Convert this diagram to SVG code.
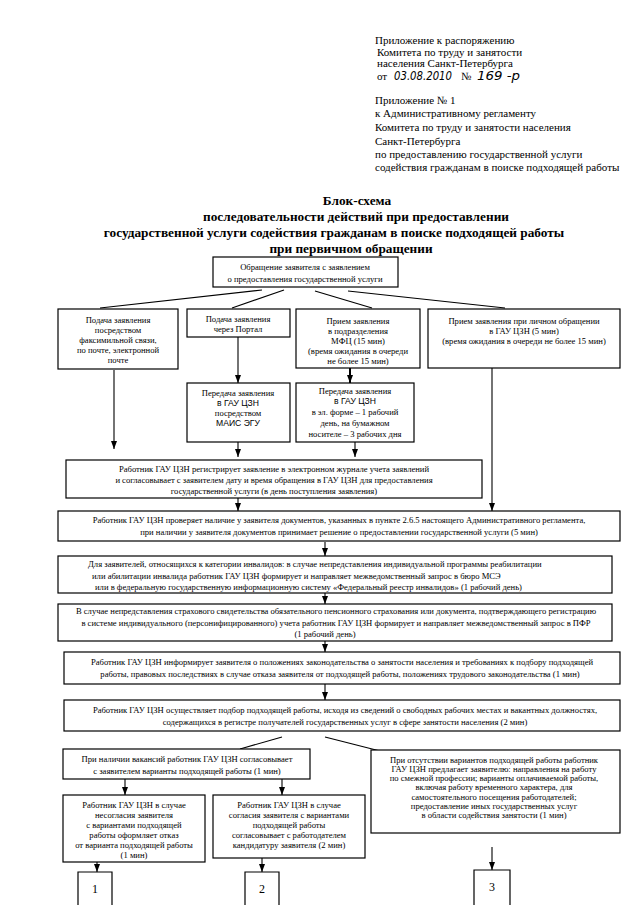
<svg xmlns="http://www.w3.org/2000/svg" width="640" height="905" viewBox="0 0 640 905">
<style>
.bg{fill:#fff}
.box{fill:#fff;stroke:#000;stroke-width:1.2}
.t{font-family:"Liberation Serif","Times New Roman",serif;font-size:8.6px;fill:#000;text-anchor:middle}
.s{font-family:"Liberation Sans",Arial,sans-serif;font-size:8.6px}
.l{text-anchor:start}
.h{font-family:"Liberation Serif","Times New Roman",serif;font-size:11px;fill:#000}
.hw{font-family:"DejaVu Sans",sans-serif;font-style:italic;font-size:12px;fill:#000}
.ti{font-family:"Liberation Serif","Times New Roman",serif;font-weight:bold;font-size:13.3px;fill:#000;text-anchor:middle}
.num{font-family:"Liberation Serif","Times New Roman",serif;font-size:12px;fill:#000;text-anchor:middle}
.c{stroke:#000;stroke-width:1.1;fill:none}
.ca{stroke:#000;stroke-width:1.1;fill:none;marker-end:url(#arr)}
</style>
<defs>
<marker id="arr" viewBox="0 0 8 6" refX="8" refY="3" markerWidth="8" markerHeight="6" markerUnits="userSpaceOnUse" orient="auto">
<path d="M0,0 L8,3 L0,6 z" fill="#000"/>
</marker>
</defs>
<rect class="bg" x="0" y="0" width="640" height="905"/>

<g id="header">
<text class="h" x="375" y="44">Приложение к распоряжению</text>
<text class="h" x="377" y="56">Комитета по труду и занятости</text>
<text class="h" x="377" y="67">населения Санкт-Петербурга</text>
<text class="h" x="377" y="80">от</text>
<text class="hw" x="394" y="80" textLength="58" lengthAdjust="spacingAndGlyphs">03.08.2010</text>
<text class="h" x="461" y="80">№</text>
<text class="hw" x="477" y="80" textLength="43" lengthAdjust="spacingAndGlyphs">169 -р</text>
<text class="h" x="375" y="104">Приложение № 1</text>
<text class="h" x="375" y="117">к Административному регламенту</text>
<text class="h" x="375" y="131">Комитета по труду и занятости населения</text>
<text class="h" x="375" y="145">Санкт-Петербурга</text>
<text class="h" x="375" y="158">по предоставлению государственной услуги</text>
<text class="h" x="375" y="171">содействия гражданам в поиске подходящей работы</text>
</g>

<g id="title">
<text class="ti" x="357" y="205">Блок-схема</text>
<text class="ti" x="356" y="221">последовательности действий при предоставлении</text>
<text class="ti" x="334" y="237">государственной услуги содействия гражданам в поиске подходящей работы</text>
<text class="ti" x="351" y="253">при первичном обращении</text>
</g>

<g id="connectors">
<line class="c" x1="262" y1="290" x2="100" y2="308"/>
<line class="c" x1="284" y1="290" x2="232" y2="308"/>
<line class="c" x1="315" y1="291" x2="372" y2="308"/>
<line class="c" x1="348" y1="291" x2="505" y2="308"/>
<line class="ca" x1="114" y1="370" x2="114" y2="449"/>
<line class="ca" x1="238" y1="337" x2="238" y2="383"/>
<line class="ca" x1="350" y1="368" x2="350" y2="383" style="stroke-width:2"/>
<line class="ca" x1="238" y1="442" x2="238" y2="457"/>
<line class="ca" x1="355" y1="442" x2="355" y2="457"/>
<line class="ca" x1="492" y1="368" x2="492" y2="511"/>
<line class="ca" x1="238" y1="498" x2="238" y2="511"/>
<line class="ca" x1="325" y1="542" x2="325" y2="556"/>
<line class="ca" x1="325" y1="593" x2="325" y2="604"/>
<line class="ca" x1="325" y1="641" x2="325" y2="652"/>
<line class="ca" x1="325" y1="684" x2="325" y2="700"/>
<line class="c" x1="282" y1="737" x2="240" y2="749"/>
<line class="c" x1="325" y1="737" x2="380" y2="751"/>
<line class="ca" x1="125" y1="779" x2="125" y2="795"/>
<line class="ca" x1="282" y1="779" x2="282" y2="795"/>
<line class="ca" x1="97" y1="862" x2="97" y2="872"/>
<line class="ca" x1="262" y1="858" x2="262" y2="872"/>
<line class="ca" x1="492" y1="847" x2="492" y2="870"/>
</g>

<g id="n-start">
<rect class="box" x="213" y="257" width="185" height="30"/>
<text class="t" x="305" y="270">Обращение заявителя с заявлением</text>
<text class="t" x="305" y="282">о предоставления государственной услуги</text>
</g>

<g id="n-fax">
<rect class="box" x="58" y="309" width="120" height="60"/>
<text class="t" x="118" y="323">Подача заявления</text>
<text class="t" x="118" y="333">посредством</text>
<text class="t" x="118" y="343">факсимильной связи,</text>
<text class="t" x="118" y="353">по почте, электронной</text>
<text class="t" x="118" y="363">почте</text>
</g>

<g id="n-portal">
<rect class="box" x="187" y="309" width="103" height="28"/>
<text class="t" x="238" y="322">Подача заявления</text>
<text class="t" x="238" y="332">через Портал</text>
</g>

<g id="n-mfc">
<rect class="box" x="296" y="309" width="124" height="59"/>
<text class="t" x="358" y="324">Прием заявления</text>
<text class="t" x="358" y="334">в подразделения</text>
<text class="t" x="358" y="344">МФЦ (15 мин)</text>
<text class="t" x="358" y="354">(время ожидания в очереди</text>
<text class="t" x="358" y="364">не более 15 мин)</text>
</g>

<g id="n-personal">
<rect class="box" x="428" y="309" width="192" height="59"/>
<text class="t" x="524" y="324">Прием заявления при личном обращении</text>
<text class="t" x="524" y="334">в ГАУ ЦЗН (5 мин)</text>
<text class="t" x="524" y="344">(время ожидания в очереди не более 15 мин)</text>
</g>

<g id="n-mais">
<rect class="box" x="187" y="383" width="103" height="59"/>
<text class="t" x="238" y="396">Передача заявления</text>
<text class="t s" x="238" y="406">в ГАУ ЦЗН</text>
<text class="t" x="238" y="416">посредством</text>
<text class="t s" x="238" y="426">МАИС ЭГУ</text>
</g>

<g id="n-transfer">
<rect class="box" x="296" y="383" width="118" height="59"/>
<text class="t" x="355" y="394">Передача заявления</text>
<text class="t s" x="355" y="404">в ГАУ ЦЗН</text>
<text class="t" x="355" y="415">в эл. форме – 1 рабочий</text>
<text class="t" x="355" y="426">день, на бумажном</text>
<text class="t" x="355" y="437">носителе – 3 рабочих дня</text>
</g>

<g id="n-register">
<rect class="box" x="66" y="460" width="416" height="38"/>
<text class="t" x="274" y="472">Работник ГАУ ЦЗН регистрирует заявление в электронном журнале учета заявлений</text>
<text class="t" x="274" y="483">и согласовывает с заявителем дату и время обращения в ГАУ ЦЗН для предоставления</text>
<text class="t" x="274" y="494">государственной услуги (в день поступления заявления)</text>
</g>

<g id="n-check">
<rect class="box" x="58" y="511" width="562" height="30"/>
<text class="t" x="339" y="523">Работник ГАУ ЦЗН  проверяет наличие у заявителя  документов, указанных в пункте 2.6.5 настоящего  Административного регламента,</text>
<text class="t" x="339" y="535">при наличии у заявителя  документов принимает решение о предоставлении государственной услуги (5 мин)</text>
</g>

<g id="n-disabled">
<rect class="box" x="58" y="556" width="554" height="37"/>
<text class="t l" x="88" y="567">Для заявителей, относящихся к категории инвалидов: в случае непредставления индивидуальной программы реабилитации</text>
<text class="t l" x="92" y="579">или абилитации инвалида работник ГАУ ЦЗН формирует и направляет межведомственный запрос в бюро МСЭ</text>
<text class="t l" x="95" y="590">или в федеральную государственную информационную систему «Федеральный реестр инвалидов» (1 рабочий день)</text>
</g>

<g id="n-pension">
<rect class="box" x="58" y="604" width="554" height="37"/>
<text class="t" x="336" y="614">В случае непредставления страхового свидетельства обязательного пенсионного страхования или документа, подтверждающего регистрацию</text>
<text class="t" x="336" y="626">в системе индивидуального (персонифицированного) учета работник ГАУ ЦЗН формирует и направляет межведомственный запрос в ПФР</text>
<text class="t" x="325" y="637">(1 рабочий день)</text>
</g>

<g id="n-inform">
<rect class="box" x="64" y="652" width="556" height="32"/>
<text class="t" x="342" y="665">Работник ГАУ ЦЗН информирует заявителя о положениях законодательства о занятости населения и требованиях к подбору подходящей</text>
<text class="t" x="340" y="677">работы, правовых последствиях в случае отказа заявителя от подходящей работы, положениях трудового законодательства (1 мин)</text>
</g>

<g id="n-select">
<rect class="box" x="64" y="700" width="556" height="31"/>
<text class="t" x="345" y="713">Работник ГАУ ЦЗН осуществляет подбор подходящей работы,  исходя из сведений о свободных рабочих местах и вакантных должностях,</text>
<text class="t" x="345" y="725">содержащихся в регистре получателей государственных услуг в сфере занятости населения (2 мин)</text>
</g>

<g id="n-vacancy">
<rect class="box" x="63" y="749" width="247" height="30"/>
<text class="t" x="187" y="762">При наличии вакансий работник ГАУ ЦЗН согласовывает</text>
<text class="t" x="187" y="774">с заявителем варианты подходящей работы (1 мин)</text>
</g>

<g id="n-novacancy">
<rect class="box" x="371" y="750" width="249" height="83"/>
<text class="t" x="494" y="763">При отсутствии вариантов подходящей работы работник</text>
<text class="t" x="494" y="772">ГАУ ЦЗН предлагает заявителю: направления на работу</text>
<text class="t" x="494" y="781">по смежной профессии; варианты оплачиваемой работы,</text>
<text class="t" x="494" y="790">включая работу  временного характера, для</text>
<text class="t" x="494" y="800">самостоятельного посещения работодателей;</text>
<text class="t" x="494" y="809">предоставление иных  государственных услуг</text>
<text class="t" x="494" y="818">в области содействия занятости (1 мин)</text>
</g>

<g id="n-refuse">
<rect class="box" x="63" y="795" width="142" height="67"/>
<text class="t" x="134" y="808">Работник ГАУ ЦЗН в случае</text>
<text class="t" x="134" y="818">несогласия заявителя</text>
<text class="t" x="134" y="828">с вариантами подходящей</text>
<text class="t" x="134" y="838">работы оформляет отказ</text>
<text class="t" x="134" y="848">от варианта подходящей работы</text>
<text class="t" x="134" y="858">(1 мин)</text>
</g>

<g id="n-agree">
<rect class="box" x="213" y="795" width="152" height="63"/>
<text class="t" x="289" y="808">Работник ГАУ ЦЗН в случае</text>
<text class="t" x="289" y="818">согласия заявителя с вариантами</text>
<text class="t" x="289" y="828">подходящей работы</text>
<text class="t" x="289" y="838">согласовывает с работодателем</text>
<text class="t" x="289" y="848">кандидатуру заявителя (2 мин)</text>
</g>

<g id="n-1">
<path class="c" d="M78,906 V872 H112 V906" style="stroke-width:1.2"/>
<text class="num" x="95" y="893">1</text>
</g>
<g id="n-2">
<path class="c" d="M245,906 V872 H279 V906" style="stroke-width:1.2"/>
<text class="num" x="262" y="893">2</text>
</g>
<g id="n-3">
<path class="c" d="M474,906 V870 H510 V906" style="stroke-width:1.2"/>
<text class="num" x="492" y="891">3</text>
</g>
</svg>
